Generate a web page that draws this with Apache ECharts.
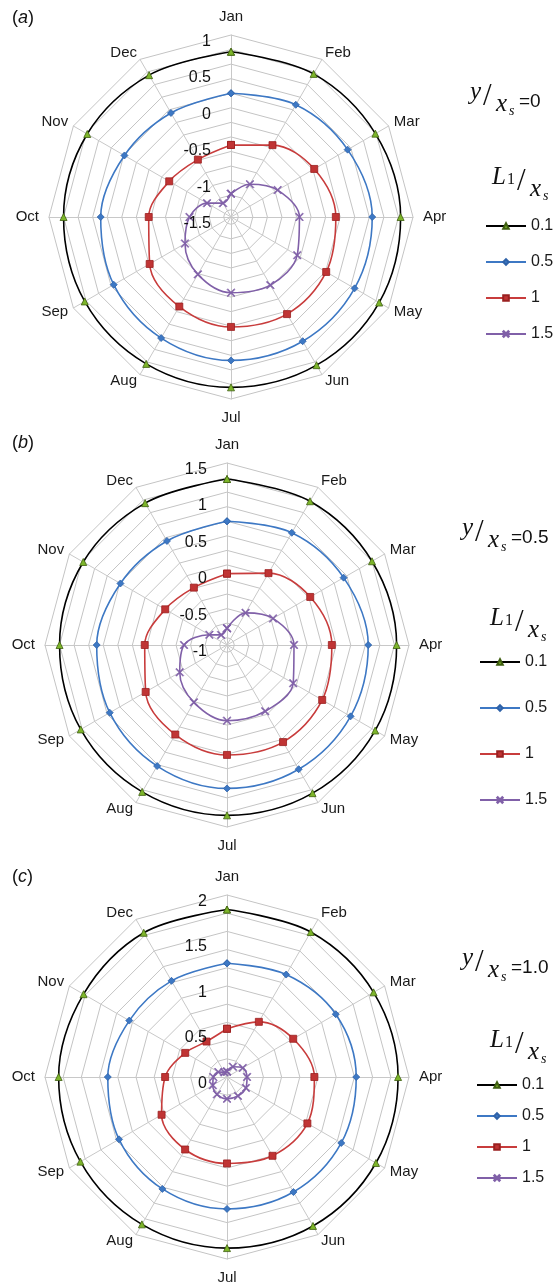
<!DOCTYPE html>
<html><head><meta charset="utf-8">
<script src="https://cdn.jsdelivr.net/npm/echarts@6/dist/echarts.min.js"></script>
<style>html,body{margin:0;padding:0;background:#fff;} .p{width:559px;}</style>
</head><body>
<div id="pa" class="p" style="height:428px"></div>
<div id="pb" class="p" style="height:430px"></div>
<div id="pc" class="p" style="height:427px"></div>
<script>
// ---------- data ----------
const months = ['Jan','Feb','Mar','Apr','May','Jun','Jul','Aug','Sep','Oct','Nov','Dec'];
const seriesNames = ['0.1','0.5','1','1.5'];

// panel (a)  y/xs = 0
const a_L01 = [0.77,0.77,0.79,0.83,0.85,0.85,0.84,0.83,0.82,0.80,0.78,0.75];
const a_L05 = [0.20,0.28,0.35,0.44,0.46,0.47,0.47,0.42,0.36,0.29,0.19,0.15];
const a_L1  = [-0.51,-0.36,-0.18,-0.06,0.01,0.04,0.01,-0.08,-0.21,-0.37,-0.52,-0.59];
const a_L15 = [-1.18,-0.98,-0.76,-0.56,-0.45,-0.42,-0.46,-0.59,-0.77,-0.93,-1.12,-1.28];

// panel (b)  y/xs = 0.5
const b_L01 = [1.28,1.28,1.30,1.33,1.35,1.35,1.34,1.33,1.32,1.30,1.28,1.25];
const b_L05 = [0.70,0.78,0.85,0.94,0.96,0.97,0.97,0.92,0.86,0.79,0.69,0.65];
const b_L1  = [-0.02,0.14,0.32,0.44,0.51,0.54,0.51,0.42,0.29,0.13,-0.02,-0.09];
const b_L15 = [-0.77,-0.49,-0.27,-0.08,0.05,0.05,0.04,-0.09,-0.25,-0.41,-0.72,-0.84];

// panel (c)  y/xs = 1.0
const c_L01 = [1.84,1.84,1.86,1.88,1.89,1.89,1.88,1.87,1.86,1.85,1.82,1.83];
const c_L05 = [1.25,1.30,1.38,1.42,1.45,1.46,1.45,1.42,1.37,1.31,1.24,1.22];
const c_L1  = [0.53,0.70,0.84,0.96,1.02,1.00,0.95,0.92,0.83,0.68,0.53,0.45];
const c_L15 = [0.06,0.13,0.20,0.22,0.24,0.24,0.24,0.22,0.18,0.15,0.11,0.06];

// radial tick labels
const a_ticks = ['-1.5','-1','-0.5','0','0.5','1'];
const b_ticks = ['-1','-0.5','0','0.5','1','1.5'];
const c_ticks = ['0','0.5','1','1.5','2'];

// ---------- styles ----------
const FONT = 'Liberation Sans';
const SERIF = 'Liberation Serif';
const lineColors = ['#000000','#3d78c4','#c83c3c','#8060a8'];
const markColors = ['#7db52a','#3d78c4','#c03434','#8060a8'];
const markBorders = ['#3f5f10','#2f62a8','#9a2020','#8060a8'];
const symbols = ['triangle','diamond','rect',
  'path://M0,1L1,0L5,4L9,0L10,1L6,5L10,9L9,10L5,6L1,10L0,9L4,5Z'];
const symSizes = [7,7,7,8];

function closed(vals){
  const d = vals.map((v,i)=>[v, i*360/months.length]);
  d.push([vals[0], 360]);
  return d;
}

function monthLabel(v){
  const i = Math.round(v/30);
  if (i >= months.length) return '';
  const key = i === 0 ? 'n' : i === 6 ? 's' : i === 3 ? 'e' : i === 9 ? 'w' : 'm';
  return '{' + key + '|' + months[i] + '}';
}
const lbl = {fontFamily:'Liberation Sans', fontSize:15, color:'#1a1a1a'};

function makeOption(cfg){
  const min = Number(cfg.ticks[0]), max = Number(cfg.ticks[cfg.ticks.length-1]);
  const steps = Math.round((max-min)/0.1);
  const ringColors = cfg.ringOdd ? ['rgba(0,0,0,0)','#c4c4c4'] : ['#c4c4c4','rgba(0,0,0,0)'];
  const series = cfg.data.map((vals,k)=>({
    type:'line', coordinateSystem:'polar', name: seriesNames[k],
    data: closed(vals), smooth: 0.35,
    symbol: symbols[k], symbolSize: symSizes[k], showAllSymbol:true,
    lineStyle:{color: lineColors[k], width: 1.6},
    itemStyle:{color: markColors[k], borderColor: markBorders[k], borderWidth: k===3?0.6:0.8},
    emphasis:{disabled:true}, animation:false, z: 3+k
  }));
  return {
    animation:false,
    radar:{
      center: cfg.center, radius: cfg.radius, startAngle: 90, shape:'polygon',
      splitNumber: steps,
      indicator: months.map(()=>({name:'', min:min, max:max})),
      axisName:{show:false},
      axisLine:{lineStyle:{color:'#c8c8c8', width:1}},
      splitLine:{lineStyle:{color: ringColors, width:1}},
      splitArea:{show:false},
      axisLabel:{show:false}, axisTick:{show:false}
    },
    polar:{center: cfg.center, radius:[0, cfg.radius]},
    angleAxis:{
      type:'value', min:0, max:360, interval:30, startAngle:90, clockwise:true,
      axisLine:{show:false}, axisTick:{show:false}, splitLine:{show:false},
      axisLabel:{formatter: monthLabel, margin:6,
        fontFamily:FONT, fontSize:15, color:'#1a1a1a',
        rich:{
          m:Object.assign({lineHeight:2}, lbl),
          n:Object.assign({padding:[0,0,5,0]}, lbl),
          s:Object.assign({padding:[5,0,0,0]}, lbl),
          e:Object.assign({padding:[0,0,0,4]}, lbl),
          w:Object.assign({padding:[0,4,0,0]}, lbl)
        }}
    },
    radiusAxis:{
      type:'value', min:min, max:max, interval:0.5,
      axisLine:{show:false}, axisTick:{show:false}, splitLine:{show:false},
      axisLabel:{formatter:(v)=> cfg.ticks.find(t=>Math.abs(Number(t)-v)<1e-9) || '',
        fontFamily:FONT, fontSize:16, color:'#111', margin:0,
        align:'right', verticalAlign:'top', lineHeight:13, padding:[0,20,0,0]},
      z: 10
    },
    legend:{
      orient:'vertical', left: cfg.legendLeft, top: cfg.legendTop, padding:0,
      itemWidth: 40, itemHeight: 7, itemGap: cfg.legendGap, selectedMode:false,
      data: seriesNames, textStyle:{fontFamily:FONT, fontSize:16, color:'#1a1a1a'}
    },
    graphic: cfg.graphic,
    series: series
  };
}

function ratioTitle(x, y, num, numSub, rhs){
  // builds the "num / x_s = rhs" label as real text elements
  const els = [];
  els.push({type:'text', left:x, top:y, style:{text:num, font:'italic 25px '+SERIF, fill:'#111'}});
  let nx = x + (numSub ? 25 : 13);
  if (numSub) els.push({type:'text', left:x+15, top:y+7, style:{text:numSub, font:'16px '+SERIF, fill:'#111'}});
  els.push({type:'text', left:nx, top:y+1, style:{text:'/', font:'31px '+SERIF, fill:'#111'}});
  els.push({type:'text', left:nx+13, top:y+12, style:{text:'x', font:'italic 25px '+SERIF, fill:'#111'}});
  els.push({type:'text', left:nx+26, top:y+24, style:{text:'s', font:'italic 14px '+SERIF, fill:'#111'}});
  if (rhs) els.push({type:'text', left:nx+36, top:y+12, style:{text:rhs, font:'19px '+FONT, fill:'#111'}});
  return els;
}
function panelLabel(letter, x, y){
  return {type:'text', left:x, top:y, style:{text:'{p|(}{l|'+letter+'}{p|)}',
    rich:{p:{fontFamily:FONT, fontSize:18, fill:'#111'}, l:{fontFamily:FONT, fontStyle:'italic', fontSize:18, fill:'#111'}}}};
}

const configs = [
  {el:'pa', center:[231,217], radius:182, ticks:a_ticks, ringOdd:true,
   data:[a_L01,a_L05,a_L1,a_L15], legendLeft:485, legendTop:218, legendGap:20,
   graphic:[panelLabel('a',12,9)].concat(ratioTitle(470,80,'y',null,'=0'), ratioTitle(492,165,'L','1',null))},
  {el:'pb', center:[227,217], radius:182, ticks:b_ticks, ringOdd:true,
   data:[b_L01,b_L05,b_L1,b_L15], legendLeft:479, legendTop:226, legendGap:30,
   graphic:[panelLabel('b',12,6)].concat(ratioTitle(462,88,'y',null,'=0.5'), ratioTitle(490,178,'L','1',null))},
  {el:'pc', center:[227,219], radius:182, ticks:c_ticks, ringOdd:false,
   data:[c_L01,c_L05,c_L1,c_L15], legendLeft:476, legendTop:219, legendGap:15,
   graphic:[panelLabel('c',12,10)].concat(ratioTitle(462,88,'y',null,'=1.0'), ratioTitle(490,170,'L','1',null))}
];
configs.forEach(cfg=>{
  const chart = echarts.init(document.getElementById(cfg.el), null, {renderer:'canvas'});
  chart.setOption(makeOption(cfg));
});
</script>
</body></html>
